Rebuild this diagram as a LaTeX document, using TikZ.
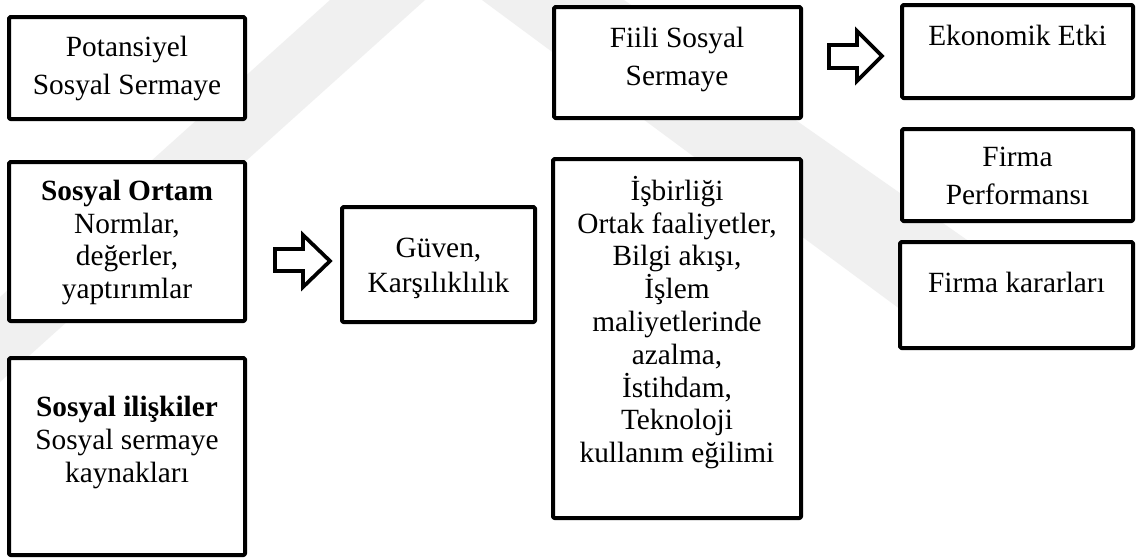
\documentclass[tikz,border=0pt]{standalone}
\usepackage{fontspec}
\setmainfont{Liberation Serif}
\usetikzlibrary{fit}
\newcommand\tstrut{\rule{0pt}{21pt}}
\definecolor{wmgray}{HTML}{F0F0F0}
\tikzset{
  box/.style={draw=black, line width=3pt, fill=white, rounded corners=1pt,
    line join=round, inner sep=0pt, outer sep=0pt},
  txt/.style={align=center, inner sep=0pt, anchor=north, text=black},
  lsA/.style={font=\fontsize{22}{28}\selectfont},
  lsB/.style={font=\fontsize{22}{24.6}\selectfont},
  lsC/.style={font=\fontsize{22}{26.3}\selectfont},
  blockarrow/.style={draw=black, line width=2.8pt, fill=white, line join=miter, miter limit=10},
  band/.style={fill=wmgray, draw=none},
}
\begin{document}
\begin{tikzpicture}[x=0.75pt, y=-0.75pt]
  \useasboundingbox[fill=white] (0,0) rectangle (1136,558);

  % faint background emblem
  \fill[band] (330,0) -- (425,0) -- (0,382) -- (0,297) -- cycle;
  \fill[band] (482,0) -- (624,0) -- (990,256) -- (935,335) -- cycle;

  % left column
  \node[box, fit={(9,17) (245,119)}] (pot) {};
  \node[box, fit={(9,162) (245,321)}] (ortam) {};
  \node[box, fit={(9,358) (245,555)}] (iliski) {};

  % middle boxes
  \node[box, fit={(342,207) (535,322)}] (guven) {};
  \node[box, fit={(554,7) (801,118)}] (fiili) {};
  \node[box, fit={(553,159) (801,518)}] (isbir) {};

  % right column
  \node[box, fit={(902,5) (1133,98)}] (ekon) {};
  \node[box, fit={(902,129) (1133,221)}] (perf) {};
  \node[box, fit={(900,242) (1133,348)}] (karar) {};

  % texts (node placed 28px above first baseline)
  \node[txt, lsA] (potT) at (127,28.7) {\tstrut Potansiyel\\Sosyal Sermaye};
  \node[txt, lsB] (ortamT) at (127,172) {\tstrut\textbf{Sosyal Ortam}\\Normlar,\\değerler,\\yaptırımlar};
  \node[txt, lsB] (iliskiT) at (127,388.7) {\tstrut\textbf{Sosyal ilişkiler}\\Sosyal sermaye\\kaynakları};
  \node[txt, lsC] (guvenT) at (438.5,229) {\tstrut Güven,\\Karşılıklılık};
  \node[txt, lsA] (fiiliT) at (677,19.5) {\tstrut Fiili Sosyal\\Sermaye};
  \node[txt, lsB] (isbirT) at (677,172) {\tstrut İşbirliği\\Ortak faaliyetler,\\Bilgi akışı,\\İşlem\\maliyetlerinde\\azalma,\\İstihdam,\\Teknoloji\\kullanım eğilimi};
  \node[txt, lsA] (ekonT) at (1017.5,17) {\tstrut Ekonomik Etki};
  \node[txt, lsA] (perfT) at (1017.5,138.7) {\tstrut Firma\\Performansı};
  \node[txt, lsA] (kararT) at (1016.5,264) {\tstrut Firma kararları};

  % hollow block arrows
  \draw[blockarrow] (275,249) -- (303,249) -- (303,235) -- (330,261)
    -- (303,287) -- (303,271) -- (275,271) -- cycle;
  \draw[blockarrow] (829,45) -- (857,45) -- (857,31) -- (882,56)
    -- (857,81) -- (857,68) -- (829,68) -- cycle;
\end{tikzpicture}
\end{document}
